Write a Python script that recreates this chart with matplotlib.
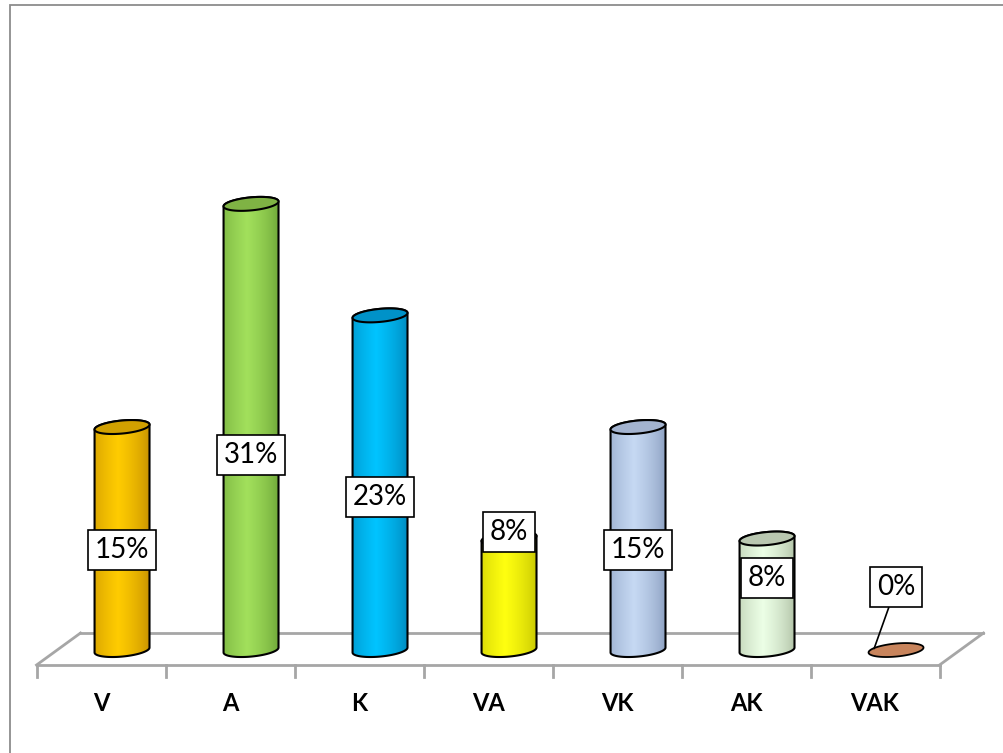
import numpy as np
import matplotlib
matplotlib.use('Agg')
from matplotlib import pyplot as plt
from matplotlib.patches import Polygon, Rectangle
from matplotlib.path import Path
from matplotlib.colors import to_rgb

categories = ['V', 'A', 'K', 'VA', 'VK', 'AK', 'VAK']
values = [15.38, 30.77, 23.08, 7.69, 15.38, 7.69, 0.0]
labels = ['15%', '31%', '23%', '8%', '15%', '8%', '0%']

# body colours: (edge shade, highlight, top face)
face_dark = ['#c08a00', '#68a034', '#0082b5', '#c0c000', '#8599bb', '#aabb9f', '#b06e48']
face_light = ['#ffcc00', '#a2e05c', '#00c4ff', '#ffff10', '#c6d9f3', '#ecffe6', '#c8845c']
top_col = ['#d1a000', '#7fb344', '#0092c8', '#d8d800', '#a3b3cf', '#b9c7b0', '#c8845c']

# where the value label sits, as fraction of bar height
label_frac = [0.45, 0.437, 0.457, 1.06, 0.45, 0.646]
vak_label_y = 4.34

plt.rcParams['font.family'] = ['Lato', 'DejaVu Sans']

fig = plt.figure(figsize=(10.04, 7.53), dpi=100)
ax = fig.add_axes([0, 0, 1, 1])
ax.set_xlim(-0.783, 7.0)
ax.set_ylim(-7.10, 44.83)
ax.axis('off')

# outer chart border
fig.patches.append(Rectangle((9.5 / 1004, -0.1), 1.2, 1 - 5.5 / 753 + 0.1,
                             transform=fig.transFigure, fill=False,
                             edgecolor='#8c8c8c', lw=1.3))

# floor
dx, dy = 0.341, 2.207
fy = -1.034
n = len(categories)
gray = '#a6a6a6'
ax.plot([-0.5, n - 0.5], [fy, fy], color=gray, lw=2, zorder=1)
ax.plot([-0.5 + dx, n - 0.5 + dx], [fy + dy, fy + dy], color=gray, lw=2, zorder=1)
ax.plot([-0.5, -0.5 + dx], [fy, fy + dy], color=gray, lw=2, zorder=1)
ax.plot([n - 0.5, n - 0.5 + dx], [fy, fy + dy], color=gray, lw=2, zorder=1)
for k in range(n + 1):
    ax.plot([k - 0.5, k - 0.5], [fy, fy - 0.83], color=gray, lw=2, zorder=1)

for i, c in enumerate(categories):
    ax.text(i, -3.66, c, ha='center', va='center', fontsize=17, fontweight='bold')

a = 0.213
b = 0.45
s = 0.17
t = np.linspace(0, 2 * np.pi, 100)


def ellipse_pts(cx, cy, tt):
    return np.column_stack([cx + a * np.cos(tt), cy + b * np.sin(tt) + s * np.cos(tt)])


for i, v in enumerate(values):
    cx = i + 0.163
    if v <= 0:
        ax.add_patch(Polygon(ellipse_pts(cx, 0, t), closed=True,
                             facecolor=top_col[i], edgecolor='black', lw=1.3, zorder=3))
        continue
    lower = ellipse_pts(cx, 0, np.linspace(np.pi, 2 * np.pi, 60))
    upper = ellipse_pts(cx, v, np.linspace(0, np.pi, 60))
    body = np.vstack([lower, upper])
    poly = Polygon(body, closed=True, facecolor='none', edgecolor='black', lw=1.5, zorder=4)
    ax.add_patch(poly)

    f = np.linspace(0, 1, 200)
    g = np.clip(1 - np.abs(f - 0.42) / 0.58, 0, 1) ** 0.6
    d = np.array(to_rgb(face_dark[i]))
    l = np.array(to_rgb(face_light[i]))
    grad = d[None, :] * (1 - g[:, None]) + l[None, :] * g[:, None]
    img = ax.imshow(grad[None, :, :], extent=(cx - a, cx + a, -b - s, v + b + s),
                    aspect='auto', zorder=3, interpolation='bilinear')
    img.set_clip_path(Path(body, closed=False), ax.transData)

    ax.add_patch(Polygon(ellipse_pts(cx, v, t), closed=True, facecolor=top_col[i],
                         edgecolor='black', lw=1.5, zorder=5))

box = dict(boxstyle='square,pad=0.25', facecolor='white', edgecolor='black', lw=1.2)
for i, v in enumerate(values):
    cx = i + 0.163
    if v > 0:
        ax.text(cx, v * label_frac[i], labels[i], ha='center', va='center',
                fontsize=20, bbox=box, zorder=6)
    else:
        ax.annotate(labels[i], xy=(cx - 0.17, 0.1), xytext=(cx, vak_label_y),
                    ha='center', va='center', fontsize=20, bbox=box, zorder=6,
                    arrowprops=dict(arrowstyle='-', color='black', lw=1.2,
                                    shrinkA=0, shrinkB=0))

fig.savefig('out.png', dpi=100, facecolor='white')
